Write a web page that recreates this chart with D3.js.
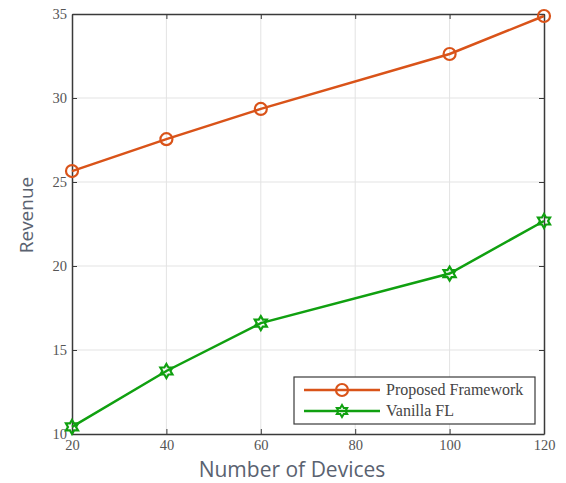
<!DOCTYPE html>
<html>
<head>
<meta charset="utf-8">
<script src="https://cdn.jsdelivr.net/npm/d3@7"></script>
<style>
	body { margin: 0; background: #fff; }
	svg { display: block; }
</style>
</head>
<body>
<div id="chart"></div>
<script>
// data
var devices = [20, 40, 60, 100, 120];
var proposed = [25.65, 27.55, 29.35, 32.62, 34.88];
var vanilla = [10.42, 13.75, 16.6, 19.55, 22.68];
var xTicks = [20, 40, 60, 80, 100, 120];
var yTicks = [10, 15, 20, 25, 30, 35];
var seriesNames = ["Proposed Framework", "Vanilla FL"];

var width = 566, height = 483;
var margin = { top: 14, right: 22, bottom: 50, left: 72 };

var svg = d3.select("#chart").append("svg")
	.attr("width", width)
	.attr("height", height);

var x = d3.scaleLinear().domain([20, 120]).range([margin.left, width - margin.right]);
var y = d3.scaleLinear().domain([10, 35]).range([height - margin.bottom + 1, margin.top]);

// grid
svg.append("g").selectAll("line").data(xTicks.slice(1, -1)).join("line")
	.attr("x1", d => x(d)).attr("x2", d => x(d))
	.attr("y1", y(10)).attr("y2", y(35))
	.attr("stroke", "#e3e3e3").attr("stroke-width", 1);
svg.append("g").selectAll("line").data(yTicks.slice(1, -1)).join("line")
	.attr("y1", d => y(d)).attr("y2", d => y(d))
	.attr("x1", x(20)).attr("x2", x(120))
	.attr("stroke", "#e3e3e3").attr("stroke-width", 1);

// axes, ticks pointing inwards
var tickFont = "'Liberation Serif', 'DejaVu Serif', serif";
var xAxis = svg.append("g")
	.attr("transform", `translate(0, ${y(10)})`)
	.call(d3.axisBottom(x).tickValues(xTicks).tickSizeInner(-5).tickSizeOuter(0).tickPadding(6));
var yAxis = svg.append("g")
	.attr("transform", `translate(${x(20)}, 0)`)
	.call(d3.axisLeft(y).tickValues(yTicks).tickSizeInner(-5).tickSizeOuter(0).tickPadding(5));
var xTop = svg.append("g")
	.attr("transform", `translate(0, ${y(35)})`)
	.call(d3.axisTop(x).tickValues(xTicks).tickSizeInner(-5).tickSizeOuter(0).tickFormat(""));
var yRight = svg.append("g")
	.attr("transform", `translate(${x(120)}, 0)`)
	.call(d3.axisRight(y).tickValues(yTicks).tickSizeInner(-5).tickSizeOuter(0).tickFormat(""));

[xAxis, yAxis, xTop, yRight].forEach(function (g) {
	g.select(".domain").attr("stroke", "#3a3a3a").attr("stroke-width", 1.5);
	g.selectAll(".tick line").attr("stroke", "#3a3a3a");
	g.selectAll("text")
		.style("font-family", tickFont)
		.style("font-size", "14.5px")
		.attr("fill", "#555");
});

// axis labels
svg.append("text")
	.attr("x", 292)
	.attr("y", 477)
	.attr("text-anchor", "middle")
	.style("font-family", "'Open Sans', sans-serif")
	.style("font-size", "21px")
	.attr("fill", "#5a6270")
	.text("Number of Devices");
svg.append("text")
	.attr("transform", "translate(33, 215) rotate(-90)")
	.attr("text-anchor", "middle")
	.style("font-family", "'Open Sans', sans-serif")
	.style("font-size", "19px")
	.attr("fill", "#5a6270")
	.text("Revenue");

var orange = "#d95319";
var green = "#10a010";
var line = d3.line().x((d, i) => x(devices[i])).y(d => y(d));

// hexagram marker
function hexagram(r) {
	var pts = [];
	for (var i = 0; i < 12; i++) {
		var a = Math.PI / 6 * i - Math.PI / 2;
		var rr = i % 2 === 0 ? r : r * 0.58;
		pts.push([rr * Math.cos(a), rr * Math.sin(a)]);
	}
	return "M" + pts.join("L") + "Z";
}

svg.append("path").datum(proposed)
	.attr("d", line).attr("fill", "none")
	.attr("stroke", orange).attr("stroke-width", 2.5);
svg.append("g").selectAll("circle").data(proposed).join("circle")
	.attr("cx", (d, i) => x(devices[i])).attr("cy", d => y(d))
	.attr("r", 6).attr("fill", "none")
	.attr("stroke", orange).attr("stroke-width", 2.2);

svg.append("path").datum(vanilla)
	.attr("d", line).attr("fill", "none")
	.attr("stroke", green).attr("stroke-width", 2.5);
svg.append("g").selectAll("path").data(vanilla).join("path")
	.attr("transform", (d, i) => `translate(${x(devices[i])}, ${y(d)})`)
	.attr("d", hexagram(7)).attr("fill", "none")
	.attr("stroke", green).attr("stroke-width", 2.2);

// legend
var legend = svg.append("g").attr("transform", "translate(294, 377)");
legend.append("rect")
	.attr("width", 241).attr("height", 47)
	.attr("fill", "#fff").attr("stroke", "#3a3a3a").attr("stroke-width", 1.2);
[orange, green].forEach(function (c, i) {
	var row = legend.append("g").attr("transform", `translate(0, ${13 + i * 21})`);
	row.append("line").attr("x1", 10).attr("x2", 86)
		.attr("stroke", c).attr("stroke-width", 2.5);
	if (i === 0) {
		row.append("circle").attr("cx", 48).attr("r", 6)
			.attr("fill", "none").attr("stroke", c).attr("stroke-width", 2.2);
	} else {
		row.append("path").attr("transform", "translate(48, 0)")
			.attr("d", hexagram(6)).attr("fill", "none")
			.attr("stroke", c).attr("stroke-width", 2);
	}
	row.append("text").attr("x", 92).attr("y", 5)
		.style("font-family", tickFont).style("font-size", "16px")
		.attr("fill", "#444")
		.text(seriesNames[i]);
});
</script>
</body>
</html>
